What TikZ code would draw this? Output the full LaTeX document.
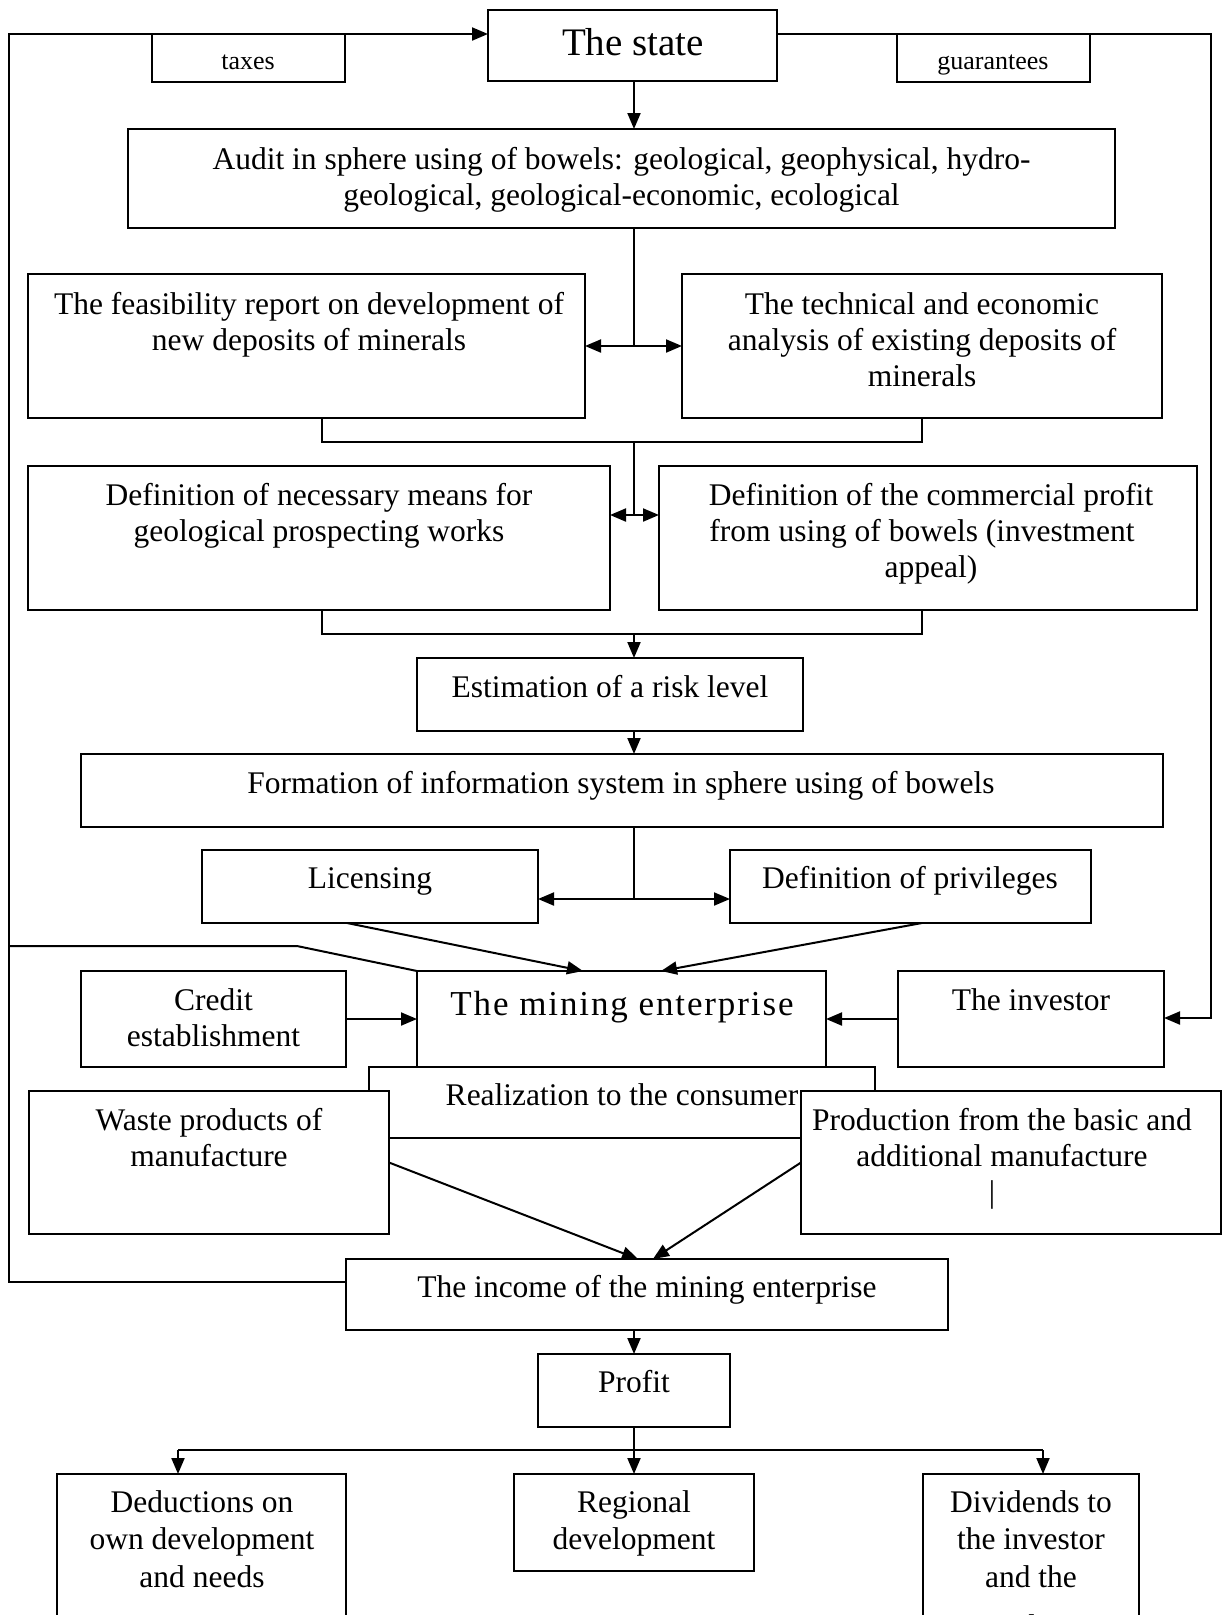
\documentclass[tikz,border=0pt]{standalone}
\usepackage{fontspec}
\setmainfont{Liberation Serif}
\newfontfamily\entfont[LetterSpace=5.4]{Liberation Serif}
\usetikzlibrary{arrows.meta}
\newcommand\nsize{\fontsize{31.5pt}{36.2pt}\selectfont}
\newcommand\bsize{\fontsize{31.5pt}{37.5pt}\selectfont}
\newcommand\ssize{\fontsize{26pt}{30pt}\selectfont}
\newcommand\tsize{\fontsize{39pt}{45pt}\selectfont}
\newcommand\esize{\entfont\fontsize{35pt}{40pt}\selectfont}
\newcommand\topstrut{\rule{0pt}{30pt}}
\tikzset{
  box/.style={draw, line width=2pt, fill=white, anchor=north west, inner sep=0pt, outer sep=0pt},
  txt/.style={anchor=north, inner sep=0pt, align=center, font=\nsize},
  ln/.style={line width=2pt},
  arr/.style={line width=2pt, -{Triangle[length=16pt,width=13pt]}},
  darr/.style={line width=2pt, {Triangle[length=16pt,width=13pt]}-{Triangle[length=16pt,width=13pt]}},
}
\begin{document}
\begin{tikzpicture}[x=1pt,y=-1pt]
\useasboundingbox (0,0) rectangle (1225,1615);
\fill[white] (0,0) rectangle (1225,1615);
\clip (0,0) rectangle (1225,1615);

% corner coordinates
\coordinate (cTL) at (9,34);
\coordinate (cBL) at (9,1282);
\coordinate (cML) at (9,946);
\coordinate (cMK) at (297,946);
\coordinate (cTR) at (1211,34);
\coordinate (cIR) at (1211,1018);
\coordinate (j1) at (634,346);
\coordinate (b1L) at (322,442);
\coordinate (b1R) at (922,442);
\coordinate (j2) at (634,515);
\coordinate (b2L) at (322,634);
\coordinate (b2R) at (922,634);
\coordinate (j3) at (634,899);
\coordinate (bL) at (178,1450);
\coordinate (bR) at (1043,1450);

% boxes and texts
\node[box, minimum width=289pt, minimum height=71pt] (state) at (488,10) {};
\node[txt, font=\tsize] (state-t) at (633,25) {\topstrut The state};
\node[box, minimum width=193pt, minimum height=48pt] (taxes) at (152,34) {};
\node[txt, font=\ssize] (taxes-t) at (248,39) {\topstrut taxes};
\node[box, minimum width=193pt, minimum height=48pt] (guar) at (897,34) {};
\node[txt, font=\ssize] (guar-t) at (993,39) {\topstrut guarantees};

\node[box, minimum width=987pt, minimum height=99pt] (audit) at (128,129) {};
\node[txt] (audit-t) at (621.5,139) {\topstrut Audit in sphere using of bowels: geological, geophysical, hydro-\\geological, geological-economic, ecological};

\node[box, minimum width=557pt, minimum height=144pt] (feas) at (28,274) {};
\node[txt] (feas-t) at (309,284) {\topstrut The feasibility report on development of\\new deposits of minerals};
\node[box, minimum width=480pt, minimum height=144pt] (tech) at (682,274) {};
\node[txt] (tech-t) at (922,284) {\topstrut The technical and economic\\analysis of existing deposits of\\minerals};

\node[box, minimum width=582pt, minimum height=144pt] (means) at (28,466) {};
\node[txt] (means-t) at (319,475) {\topstrut Definition of necessary means for\\geological prospecting works};
\node[box, minimum width=538pt, minimum height=144pt] (comm) at (659,466) {};
\node[txt] (comm-t) at (931,475) {\topstrut Definition of the commercial profit\\from using of bowels (investment\rule{18pt}{0pt}\\appeal)};

\node[box, minimum width=386pt, minimum height=73pt] (est) at (417,658) {};
\node[txt] (est-t) at (610,667) {\topstrut Estimation of a risk level};

\node[box, minimum width=1082pt, minimum height=73pt] (form) at (81,754) {};
\node[txt] (form-t) at (621,763) {\topstrut Formation of information system in sphere using of bowels};

\node[box, minimum width=336pt, minimum height=73pt] (lic) at (202,850) {};
\node[txt] (lic-t) at (370,858) {\topstrut Licensing};
\node[box, minimum width=361pt, minimum height=73pt] (priv) at (730,850) {};
\node[txt] (priv-t) at (910,858) {\topstrut Definition of privileges};

\node[box, minimum width=265pt, minimum height=96pt] (credit) at (81,971) {};
\node[txt] (credit-t) at (213.5,980) {\topstrut Credit\\establishment};
\node[box, minimum width=409pt, minimum height=96pt] (ent) at (417,971) {};
\node[txt, font=\esize] (ent-t) at (622,985) {\topstrut The mining enterprise};
\node[box, minimum width=266pt, minimum height=96pt] (inv) at (898,971) {};
\node[txt] (inv-t) at (1031,980) {\topstrut The investor};

\node[box, minimum width=506pt, minimum height=71pt] (real) at (369,1067) {};
\node[txt] (real-t) at (622,1075) {\topstrut Realization to the consumer};
\node[box, minimum width=360pt, minimum height=143pt] (waste) at (29,1091) {};
\node[txt] (waste-t) at (209,1100) {\topstrut Waste products of\\manufacture};
\node[box, minimum width=420pt, minimum height=143pt] (prod) at (801,1091) {};
\node[txt] (prod-t) at (1002,1100) {\topstrut Production from the basic and\\additional manufacture\\|\rule{20pt}{0pt}};

\node[box, minimum width=602pt, minimum height=71pt] (income) at (346,1259) {};
\node[txt] (income-t) at (647,1267) {\topstrut The income of the mining enterprise};

\node[box, minimum width=192pt, minimum height=73pt] (profit) at (538,1354) {};
\node[txt] (profit-t) at (634,1362) {\topstrut Profit};

\node[box, minimum width=289pt, minimum height=170pt] (ded) at (57,1474) {};
\node[txt, font=\bsize] (ded-t) at (202,1482) {\topstrut Deductions on\\own development\\and needs};
\node[box, minimum width=240pt, minimum height=97pt] (reg) at (514,1474) {};
\node[txt, font=\bsize] (reg-t) at (634,1482) {\topstrut Regional\\development};
\node[box, minimum width=216pt, minimum height=170pt] (div) at (923,1474) {};
\node[txt, font=\bsize] (div-t) at (1031,1482) {\topstrut Dividends to\\the investor\\and the\\[12pt]creditor};

% connectors
\draw[arr] (income.west |- cBL) -- (cBL) -- (cTL) -- (state.west |- cTL);
\draw[ln] (cML) -- (cMK) -- (ent.north west);
\draw[arr] (state.east |- cTR) -- (cTR) -- (cIR) -- (inv.east |- cIR);
\draw[arr] (state.south -| j1) -- (audit.north -| j1);
\draw[ln] (audit.south -| j1) -- (j1);
\draw[darr] (feas.east |- j1) -- (tech.west |- j1);
\draw[ln] (feas.south -| b1L) -- (b1L) -- (b1R) -- (tech.south -| b1R);
\draw[ln] (b1L -| j2) -- (j2);
\draw[darr] (means.east |- j2) -- (comm.west |- j2);
\draw[ln] (means.south -| b2L) -- (b2L) -- (b2R) -- (comm.south -| b2R);
\draw[arr] (b2L -| j2) -- (est.north -| j2);
\draw[arr] (est.south -| j2) -- (form.north -| j2);
\draw[ln] (form.south -| j3) -- (j3);
\draw[darr] (lic.east |- j3) -- (priv.west |- j3);
\draw[arr] ([xshift=-23pt]lic.south) -- ([xshift=-38.5pt]ent.north);
\draw[arr] ([xshift=11.5pt]priv.south) -- ([xshift=39.5pt]ent.north);
\draw[arr] (credit.east) -- (ent.west);
\draw[arr] (inv.west) -- (ent.east);
\draw[arr] (waste.east) -- ([xshift=-9pt]income.north);
\draw[arr] (prod.west) -- ([xshift=6pt]income.north);
\draw[arr] (income.south -| profit.north) -- (profit.north);
\draw[ln] (profit.south) -- (profit.south |- bL);
\draw[ln] (bL) -- (bR);
\draw[arr] (bL) -- (ded.north -| bL);
\draw[arr] (profit.south |- bL) -- (reg.north);
\draw[arr] (bR) -- (div.north -| bR);
\end{tikzpicture}
\end{document}
